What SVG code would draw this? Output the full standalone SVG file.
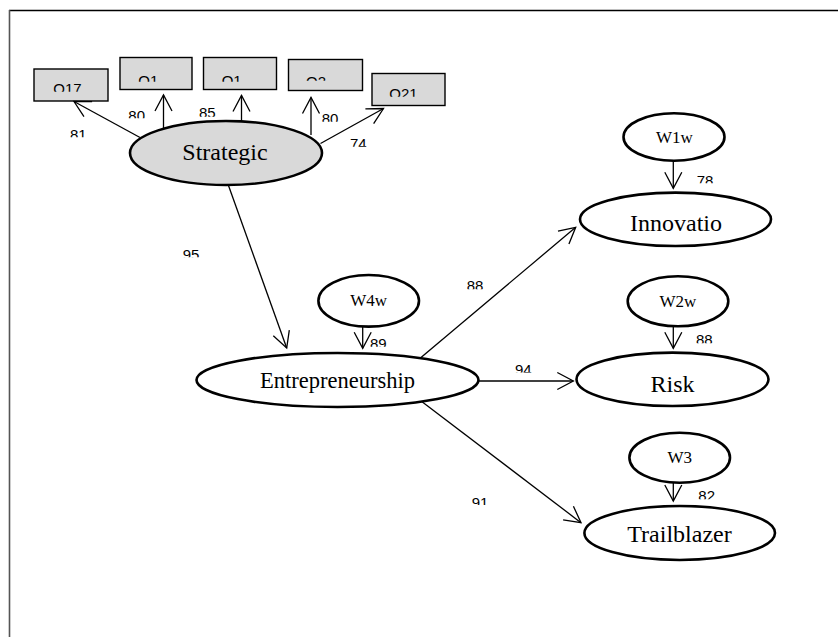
<svg xmlns="http://www.w3.org/2000/svg" width="838" height="637" viewBox="0 0 838 637">
  <style>
    .frame { fill: none; stroke-width: 1.6; }
    .box rect { fill: #d9d9d9; stroke: #000; stroke-width: 1.4; }
    .box text { font-family: "Liberation Sans", Arial, sans-serif; font-size: 15px; fill: #000; }
    .lat ellipse { fill: #fff; stroke: #000; stroke-width: 2.6; }
    .lat.shaded ellipse { fill: #d9d9d9; }
    .lat text { font-family: "Liberation Serif", "Times New Roman", serif; font-size: 24px; text-anchor: middle; fill: #000; }
    .lat.small text { font-size: 17px; }
    .edges line { stroke: #000; stroke-width: 1.3; marker-end: url(#vhead); }
    .coef text { font-family: "Liberation Sans", Arial, sans-serif; font-size: 15px; fill: #000; }
  </style>
  <defs>
    <marker id="vhead" markerUnits="userSpaceOnUse" viewBox="-19 -11 21 22" markerWidth="21" markerHeight="22" refX="0" refY="0" orient="auto">
      <path d="M-16,-8.5 L0,0 L-16,8.5" fill="none" stroke="#000" stroke-width="1.3"/>
    </marker>
    <!-- bottom cut-offs for the clipped labels -->
    <clipPath id="c-o17" clipPathUnits="userSpaceOnUse"><rect x="0" y="0" width="838" height="91.7"/></clipPath>
    <clipPath id="c-o1" clipPathUnits="userSpaceOnUse"><rect x="0" y="0" width="838" height="81.7"/></clipPath>
    <clipPath id="c-o2" clipPathUnits="userSpaceOnUse"><rect x="0" y="0" width="838" height="80.7"/></clipPath>
    <clipPath id="c-o21" clipPathUnits="userSpaceOnUse"><rect x="0" y="0" width="838" height="96.7"/></clipPath>
    <clipPath id="c-81" clipPathUnits="userSpaceOnUse"><rect x="0" y="0" width="838" height="137.3"/></clipPath>
    <clipPath id="c-80a" clipPathUnits="userSpaceOnUse"><rect x="0" y="0" width="838" height="118.3"/></clipPath>
    <clipPath id="c-85" clipPathUnits="userSpaceOnUse"><rect x="0" y="0" width="838" height="116.7"/></clipPath>
    <clipPath id="c-80b" clipPathUnits="userSpaceOnUse"><rect x="0" y="0" width="838" height="121.7"/></clipPath>
    <clipPath id="c-74" clipPathUnits="userSpaceOnUse"><rect x="0" y="0" width="838" height="146.7"/></clipPath>
    <clipPath id="c-95" clipPathUnits="userSpaceOnUse"><rect x="0" y="0" width="838" height="257.3"/></clipPath>
    <clipPath id="c-89" clipPathUnits="userSpaceOnUse"><rect x="0" y="0" width="838" height="346.7"/></clipPath>
    <clipPath id="c-78" clipPathUnits="userSpaceOnUse"><rect x="0" y="0" width="838" height="183.3"/></clipPath>
    <clipPath id="c-88a" clipPathUnits="userSpaceOnUse"><rect x="0" y="0" width="838" height="289.3"/></clipPath>
    <clipPath id="c-88b" clipPathUnits="userSpaceOnUse"><rect x="0" y="0" width="838" height="343.3"/></clipPath>
    <clipPath id="c-94" clipPathUnits="userSpaceOnUse"><rect x="0" y="0" width="838" height="372.5"/></clipPath>
    <clipPath id="c-91" clipPathUnits="userSpaceOnUse"><rect x="0" y="0" width="838" height="505"/></clipPath>
    <clipPath id="c-82" clipPathUnits="userSpaceOnUse"><rect x="0" y="0" width="838" height="499.3"/></clipPath>
  </defs>

  <rect width="838" height="637" fill="#fff"/>

  <!-- outer frame -->
  <path class="frame" d="M9,10.5 H838" stroke="#000"/>
  <path class="frame" d="M9.5,10 V637" stroke="#555"/>

  <!-- observed indicators -->
  <g id="O17" class="box">
    <rect x="34" y="69" width="74" height="32"/>
    <text x="53.3" y="94.3" clip-path="url(#c-o17)">O17</text>
  </g>
  <g id="O1a" class="box">
    <rect x="120" y="57.5" width="72" height="32"/>
    <text x="138.3" y="86" clip-path="url(#c-o1)">O1</text>
  </g>
  <g id="O1b" class="box">
    <rect x="203.5" y="57.5" width="73" height="32"/>
    <text x="221.7" y="86" clip-path="url(#c-o1)">O1</text>
  </g>
  <g id="O2" class="box">
    <rect x="288.5" y="59.5" width="74" height="31"/>
    <text x="306" y="87" clip-path="url(#c-o2)">O2</text>
  </g>
  <g id="O21" class="box">
    <rect x="372" y="73.5" width="73" height="32"/>
    <text x="389.3" y="99.3" clip-path="url(#c-o21)">O21</text>
  </g>

  <!-- paths -->
  <g id="connectors" class="edges">
    <line x1="140" y1="137.5" x2="74" y2="101.5"/>
    <line x1="163.5" y1="130" x2="163.5" y2="95"/>
    <line x1="241.5" y1="121" x2="241.5" y2="95.5"/>
    <line x1="311" y1="135" x2="311" y2="97.5"/>
    <line x1="320.5" y1="143.5" x2="383.5" y2="108.5"/>
    <line x1="228.3" y1="185" x2="286.7" y2="348"/>
    <line x1="362.7" y1="326.7" x2="362.7" y2="348.3"/>
    <line x1="420.7" y1="357.7" x2="575.7" y2="227.3"/>
    <line x1="478.3" y1="381" x2="573.3" y2="381"/>
    <line x1="420.7" y1="400.7" x2="581" y2="522.7"/>
    <line x1="673.3" y1="160.7" x2="673.3" y2="188.3"/>
    <line x1="673.3" y1="326.5" x2="673.3" y2="348.3"/>
    <line x1="673.3" y1="482.7" x2="673.3" y2="501"/>
  </g>

  <!-- latent variables -->
  <g id="Strategic" class="lat shaded">
    <ellipse cx="226" cy="153" rx="96" ry="32"/>
    <text x="225" y="160">Strategic</text>
  </g>
  <g id="Entrepreneurship" class="lat">
    <ellipse cx="337.5" cy="380" rx="141" ry="27"/>
    <text x="337.5" y="388.3" style="font-size:22.5px">Entrepreneurship</text>
  </g>
  <g id="Innovatio" class="lat">
    <ellipse cx="675.5" cy="219.3" rx="95.5" ry="26.7"/>
    <text x="676" y="231">Innovatio</text>
  </g>
  <g id="Risk" class="lat">
    <ellipse cx="672.5" cy="379.3" rx="96" ry="26.7"/>
    <text x="672.5" y="391.7">Risk</text>
  </g>
  <g id="Trailblazer" class="lat">
    <ellipse cx="679.7" cy="533" rx="95.3" ry="27"/>
    <text x="679.5" y="541.7">Trailblazer</text>
  </g>

  <!-- disturbance terms -->
  <g id="W4w" class="lat small">
    <ellipse cx="368.7" cy="300.8" rx="50.3" ry="25.8"/>
    <text x="368.7" y="305.5">W4w</text>
  </g>
  <g id="W1w" class="lat small">
    <ellipse cx="674" cy="137" rx="50.5" ry="23.7"/>
    <text x="674.3" y="143.3">W1w</text>
  </g>
  <g id="W2w" class="lat small">
    <ellipse cx="678" cy="301.3" rx="50.3" ry="25"/>
    <text x="678" y="306.5">W2w</text>
  </g>
  <g id="W3" class="lat small">
    <ellipse cx="679.7" cy="457.7" rx="50.3" ry="25"/>
    <text x="679.7" y="463.3">W3</text>
  </g>

  <!-- path coefficients -->
  <g id="coefficients" class="coef">
    <text x="70" y="140" clip-path="url(#c-81)">81</text>
    <text x="128.3" y="121" clip-path="url(#c-80a)">80</text>
    <text x="199" y="117.7" clip-path="url(#c-85)">85</text>
    <text x="321.7" y="124.3" clip-path="url(#c-80b)">80</text>
    <text x="350" y="149.3" clip-path="url(#c-74)">74</text>
    <text x="182.7" y="260" clip-path="url(#c-95)">95</text>
    <text x="370" y="349.3" clip-path="url(#c-89)">89</text>
    <text x="696.7" y="186" clip-path="url(#c-78)">78</text>
    <text x="466.7" y="291" clip-path="url(#c-88a)">88</text>
    <text x="696" y="345" clip-path="url(#c-88b)">88</text>
    <text x="515" y="375" clip-path="url(#c-94)">94</text>
    <text x="471.7" y="507.7" clip-path="url(#c-91)">91</text>
    <text x="698.3" y="501" clip-path="url(#c-82)">82</text>
  </g>
</svg>
